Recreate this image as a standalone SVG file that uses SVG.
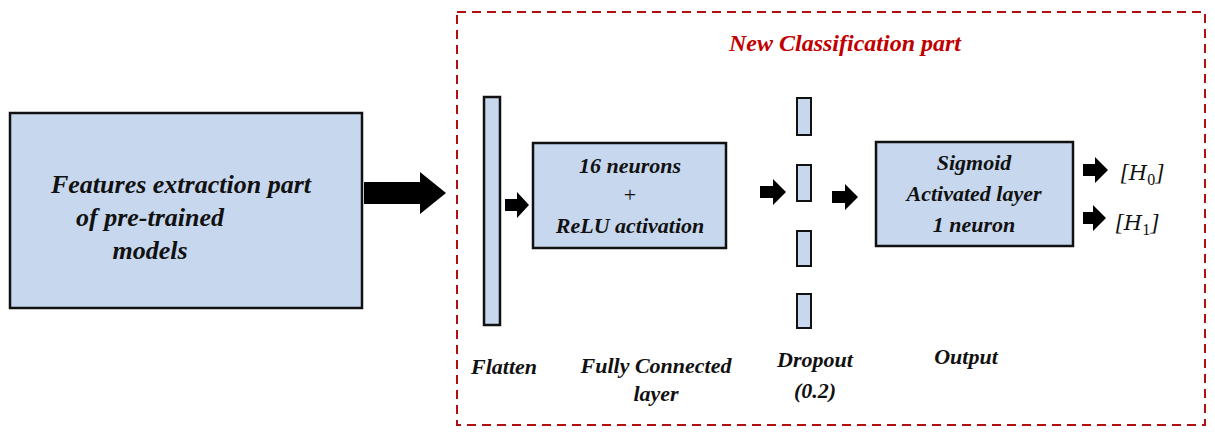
<svg xmlns="http://www.w3.org/2000/svg" width="1215" height="438" viewBox="0 0 1215 438">
<style>
.b{fill:#c6d7ee;stroke:#111;stroke-width:2.5}
.t{font-family:'Liberation Serif','Times New Roman','DejaVu Serif',serif;font-weight:bold;font-style:italic;font-size:22px;fill:#111;text-anchor:middle}
.a{fill:#000}
</style>
<rect x="0" y="0" width="1215" height="438" fill="#fff"/>
<rect x="457" y="12" width="748" height="413" fill="none" stroke="#b01010" stroke-width="2" stroke-dasharray="9,6"/>
<text class="t" x="845" y="51" style="fill:#c00000;font-size:24px">New Classification part</text>
<g id="features"><rect class="b" x="10" y="113" width="352" height="195"/>
<text class="t" x="181" y="193" style="font-size:26px">Features extraction part</text>
<text class="t" x="150" y="226" style="font-size:26px">of pre-trained</text>
<text class="t" x="150" y="259" style="font-size:26px">models</text></g>
<g id="flatten"><rect class="b" x="484" y="97" width="16" height="228"/><text class="t" x="504" y="374">Flatten</text></g>
<g id="fc"><rect class="b" x="533" y="143" width="193" height="105"/>
<text class="t" x="630" y="173">16 neurons</text>
<text class="t" x="630" y="202" style="font-style:normal;font-weight:normal">+</text>
<text class="t" x="630" y="233">ReLU activation</text>
<text class="t" x="656" y="373">Fully Connected</text><text class="t" x="656" y="401">layer</text></g>
<g id="dropout"><rect class="b" x="797" y="98" width="14" height="37" style="stroke-width:2"/><rect class="b" x="797" y="165" width="14" height="36" style="stroke-width:2"/><rect class="b" x="797" y="231" width="14" height="35" style="stroke-width:2"/><rect class="b" x="797" y="294" width="14" height="34" style="stroke-width:2"/>
<text class="t" x="815" y="367">Dropout</text><text class="t" x="815" y="398">(0.2)</text></g>
<g id="output"><rect class="b" x="876" y="142" width="197" height="104"/>
<text class="t" x="974" y="170">Sigmoid</text><text class="t" x="974" y="201">Activated layer</text><text class="t" x="974" y="232">1 neuron</text>
<text class="t" x="966" y="364">Output</text>
<text class="t" x="1142" y="180" style="font-weight:normal;font-size:24px">[<tspan font-family="DejaVu Serif" font-size="21">H</tspan><tspan font-style="normal" font-size="16" dy="5">0</tspan><tspan dy="-5">]</tspan></text>
<text class="t" x="1137" y="230" style="font-weight:normal;font-size:24px">[<tspan font-family="DejaVu Serif" font-size="21">H</tspan><tspan font-style="normal" font-size="16" dy="5">1</tspan><tspan dy="-5">]</tspan></text></g>
<g id="connectors">
<polygon class="a" points="364,182 420,182 420,172 446,193 420,214 420,204 364,204"/>
<polygon class="a" points="505,199 517,199 517,192 529,205 517,218 517,211 505,211"/>
<polygon class="a" points="760,186 773,186 773,179 786,192 773,205 773,198 760,198"/>
<polygon class="a" points="832,191 845,191 845,184 858,197 845,210 845,203 832,203"/>
<polygon class="a" points="1083,164 1095,164 1095,157 1108,170 1095,183 1095,176 1083,176"/>
<polygon class="a" points="1083,212 1093,212 1093,205 1106,218 1093,231 1093,224 1083,224"/>
</g>
</svg>
